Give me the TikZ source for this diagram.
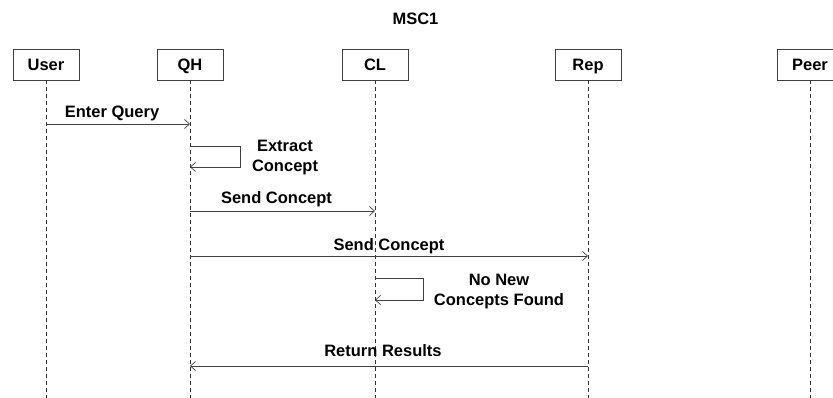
\documentclass[tikz,border=0pt]{standalone}
\usepackage{fontspec}
\setmainfont{Liberation Sans}
\usetikzlibrary{arrows.meta}

\begin{document}
\begin{tikzpicture}
    [x=1pt,y=-1pt,font=\fontsize{16.5}{20}\selectfont\bfseries,
     actor/.style={draw=black!75,line width=0.8pt,minimum width=66pt,minimum height=31pt,inner sep=0pt,text height=13pt,text depth=1.5pt},
     life/.style={black!80,line width=0.7pt,dash pattern=on 4pt off 3pt},
     msg/.style={black!75,line width=0.8pt,-{Straight Barb[length=5pt,width=9pt,line width=0.7pt]}},
     lbl/.style={text=black,anchor=base,inner sep=0pt},
     note/.style={align=center,inner sep=0pt}]
  \useasboundingbox (0,0) rectangle (833,398);
  \node (title) at (415.5,18.5) {MSC1};
  % lifelines
  \node[actor] (user) at (46,64.5) {User};
  \node[actor] (qh) at (190,64.5) {QH};
  \node[actor] (cl) at (375,64.5) {CL};
  \node[actor] (rep) at (588,64.5) {Rep};
  \node[actor] (peer) at (810,64.5) {Peer};
  \foreach \n in {user,qh,cl,rep,peer}
    \draw[life] (\n.south) -- (\n.south |- 0,398);
  % messages
  \draw[msg] (user.south |- 0,124) -- node[lbl,yshift=6pt,xshift=-6pt] {Enter Query} (qh.south |- 0,124);
  \draw[msg] (qh.south |- 0,146) -- ++(50,0) |- (qh.south |- 0,167);
  \node[note] (extract) at (285,158) {Extract\\Concept};
  \draw[msg] (qh.south |- 0,211) -- node[lbl,yshift=7pt,xshift=-6pt] {Send Concept} (cl.south |- 0,211);
  \draw[msg] (qh.south |- 0,256) -- node[lbl,yshift=5pt] {Send Concept} (rep.south |- 0,256);
  \draw[msg] (cl.south |- 0,278) -- ++(48,0) |- (cl.south |- 0,300);
  \node[note] (nonew) at (499,291.5) {No New\\Concepts Found};
  \draw[msg] (rep.south |- 0,366) -- node[lbl,yshift=10pt,xshift=-6pt] {Return Results} (qh.south |- 0,366);
\end{tikzpicture}
\end{document}
